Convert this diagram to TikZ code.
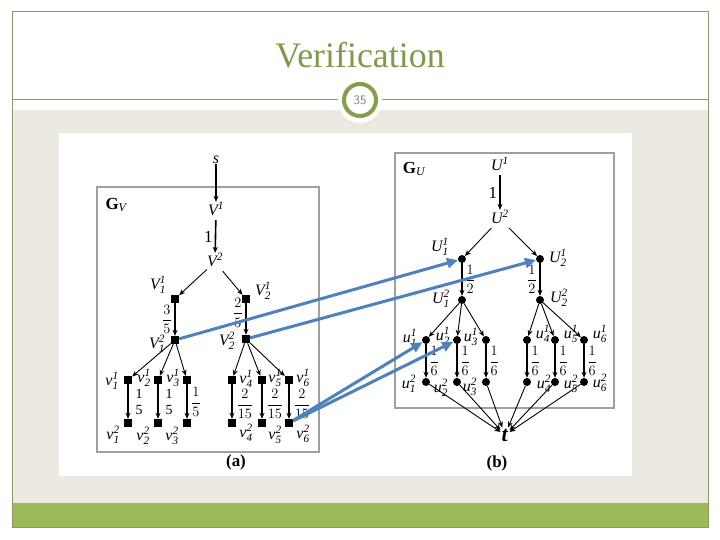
\documentclass[tikz,border=0pt]{standalone}
\usepackage{fontspec}
\setmainfont{Liberation Serif}
\usetikzlibrary{arrows.meta}
\definecolor{frameol}{HTML}{8C9966}
\definecolor{beige}{HTML}{ECEAE0}
\definecolor{barg}{HTML}{9BBB59}
\definecolor{titleg}{HTML}{7F9A48}
\definecolor{boxgray}{HTML}{A0A0A0}
\definecolor{arrblue}{HTML}{4F81BD}
\newcommand{\mylab}[3]{$\mathit{#1}^{\mathit{#2}}_{\mathit{#3}}$}
\newcommand{\myfr}[2]{$\displaystyle\frac{#1}{#2}$}
\begin{document}
\begin{tikzpicture}[x=1bp,y=-1bp,
  sq/.style={fill=black, minimum size=8bp, inner sep=0pt},
  dotn/.style={circle, fill=black, minimum size=8bp, inner sep=0pt},
  lbl/.style={font=\fontsize{16}{16}\selectfont, inner sep=0pt},
  big/.style={font=\fontsize{17}{17}\selectfont, inner sep=1pt},
  elbl/.style={font=\fontsize{14}{14}\selectfont, inner sep=0.5pt},
  thin arr/.style={-{Stealth[length=6bp,width=5bp]}, line width=0.9bp},
  thick arr/.style={-{Stealth[length=6bp,width=5bp]}, line width=1.6bp},
  blue arr/.style={-{Triangle[length=11bp,width=10bp]}, line width=3bp, arrblue},
  boxd/.style={draw=boxgray, line width=1.6bp}]
\useasboundingbox (0,0) rectangle (720,540);
\fill[white] (0,0) rectangle (720,540);
\fill[beige] (12,110) rectangle (708,503);
\fill[barg] (12,503) rectangle (708,527);
\draw[frameol, line width=1bp] (12,12) rectangle (708,527);
\draw[frameol, line width=1bp] (12,100) -- (708,100);
\node[titleg, font=\fontsize{36}{36}\selectfont] (title) at (360,55) {Verification};
\fill[white] (360,101) circle (22);
\draw[barg!85!black, line width=4bp] (360,100) circle (16);
\node[gray, font=\sffamily\fontsize{13}{13}\selectfont] (num) at (360,100) {35};
% white panel
\fill[white] (59,133) rectangle (632,476);
% ---------------- G_V ----------------
\draw[boxd] (97,187) rectangle (319,452);
\node[big] (gv) at (116,205) {$\mathbf{G}_{\mathit{V}}$};
\node[lbl] (s) at (216,160) {$\mathit{s}$};
\node[lbl] (V1) at (216,211) {\mylab{V}{1}{}};
\node[lbl] (V2) at (215,262) {\mylab{V}{2}{}};
\draw[thick arr] (s) -- (V1);
\draw[thick arr] (V1) -- node[big, left=1bp] (l1) {1} (V2);
\node[sq] (V11) at (175,299) {};
\node[sq] (V21) at (246,299) {};
\node[sq] (V12) at (175,340) {};
\node[sq] (V22) at (246,339) {};
\node[lbl] (lV11) at (158,285) {\mylab{V}{1}{1}};
\node[lbl] (lV21) at (263,291) {\mylab{V}{1}{2}};
\node[lbl] (lV12) at (157,344) {\mylab{V}{2}{1}};
\node[lbl] (lV22) at (227,341) {\mylab{V}{2}{2}};
\draw[thin arr] (V2) -- (V11);
\draw[thin arr] (V2) -- (V21);
\draw[thick arr] (V11) -- node[elbl, left=2bp] (f35) {\myfr{3}{5}} (V12);
\draw[thick arr] (V21) -- node[elbl, left=2bp, pos=0.3] (f25) {\myfr{2}{5}} (V22);
\foreach \i/\x in {1/128,2/158,3/187,4/232,5/262,6/289}{
  \node[sq] (v1\i) at (\x,380) {};
  \node[sq] (v2\i) at (\x,423) {};
  \draw[thick arr] (v1\i) -- (v2\i);
}
\foreach \i in {1,2,3}{\draw[thin arr] (V12) -- (v1\i);}
\foreach \i in {4,5,6}{\draw[thin arr] (V22) -- (v1\i);}
\foreach \i/\x/\y in {1/112/381,2/144/378,3/173/378,4/246/379,5/275/378,6/303/378}{
  \node[lbl] (lv1\i) at (\x,\y) {\mylab{v}{1}{\i}};}
\foreach \i/\x/\y in {1/113/435,2/143/436,3/172/436,4/246/433,5/275/435,6/303/434}{
  \node[lbl] (lv2\i) at (\x,\y) {\mylab{v}{2}{\i}};}
\foreach \i/\x in {1/139,2/169}{
  \node[elbl, align=center] (ev\i) at (\x,402) {1\\[2bp]5};}
\node[elbl] (ev3) at (196,402) {\myfr{1}{5}};
\foreach \i/\x in {4/245,5/275,6/302}{
  \node[elbl] (ev\i) at (\x,404) {\myfr{2}{15}};}
\node[big] (a) at (236,462) {\textbf{(a)}};
% ---------------- G_U ----------------
\draw[boxd] (395,153) rectangle (614,408);
\node[big] (gu) at (414,169) {$\mathbf{G}_{\mathit{U}}$};
\node[lbl] (U1) at (500,166) {\mylab{U}{1}{}};
\node[lbl] (U2) at (500,219) {\mylab{U}{2}{}};
\draw[thick arr] (U1) -- node[big, left=1bp] (l2) {1} (U2);
\node[dotn] (U11) at (462,259) {};
\node[dotn] (U21) at (540,259) {};
\node[dotn] (U12) at (462,300) {};
\node[dotn] (U22) at (540,300) {};
\node[lbl] (lU11) at (440,247) {\mylab{U}{1}{1}};
\node[lbl] (lU21) at (558,258) {\mylab{U}{1}{2}};
\node[lbl] (lU12) at (441,299) {\mylab{U}{2}{1}};
\node[lbl] (lU22) at (559,298) {\mylab{U}{2}{2}};
\draw[thin arr] (U2) -- (U11);
\draw[thin arr] (U2) -- (U21);
\draw[thick arr] (U11) -- node[elbl, right=2bp] (f12a) {\myfr{1}{2}} (U12);
\draw[thick arr] (U21) -- node[elbl, left=2bp] (f12b) {\myfr{1}{2}} (U22);
\foreach \i/\x in {1/426,2/457,3/486,4/527,5/555,6/584}{
  \node[dotn] (u1\i) at (\x,340) {};
  \node[dotn] (u2\i) at (\x,382) {};
  \draw[thick arr] (u1\i) -- node[elbl, right=2bp] {\myfr{1}{6}} (u2\i);
}
\foreach \i in {1,2,3}{\draw[thin arr] (U12) -- (u1\i);}
\foreach \i in {4,5,6}{\draw[thin arr] (U22) -- (u1\i);}
\foreach \i/\x/\y in {1/410/338,2/443/336,3/471/337,4/543/334,5/571/334,6/600/334}{
  \node[lbl] (lu1\i) at (\x,\y) {\mylab{u}{1}{\i}};}
\foreach \i/\x/\y in {1/409/384,2/441/388,3/470/387,4/544/384,5/571/384,6/600/383}{
  \node[lbl] (lu2\i) at (\x,\y) {\mylab{u}{2}{\i}};}
\node[font=\fontsize{22}{22}\selectfont, inner sep=1pt] (t) at (505,435) {\textbf{\textit{t}}};
\foreach \i in {1,...,6}{\draw[thin arr] (u2\i) -- (t);}
\node[big] (b) at (497,463) {\textbf{(b)}};
% ---------------- blue mapping arrows ----------------
\draw[blue arr] (V12) -- (U11);
\draw[blue arr] (V22) -- (U21);
\draw[blue arr] (v26) -- (u11);
\draw[blue arr] (v26) -- (u12);
\end{tikzpicture}
\end{document}
